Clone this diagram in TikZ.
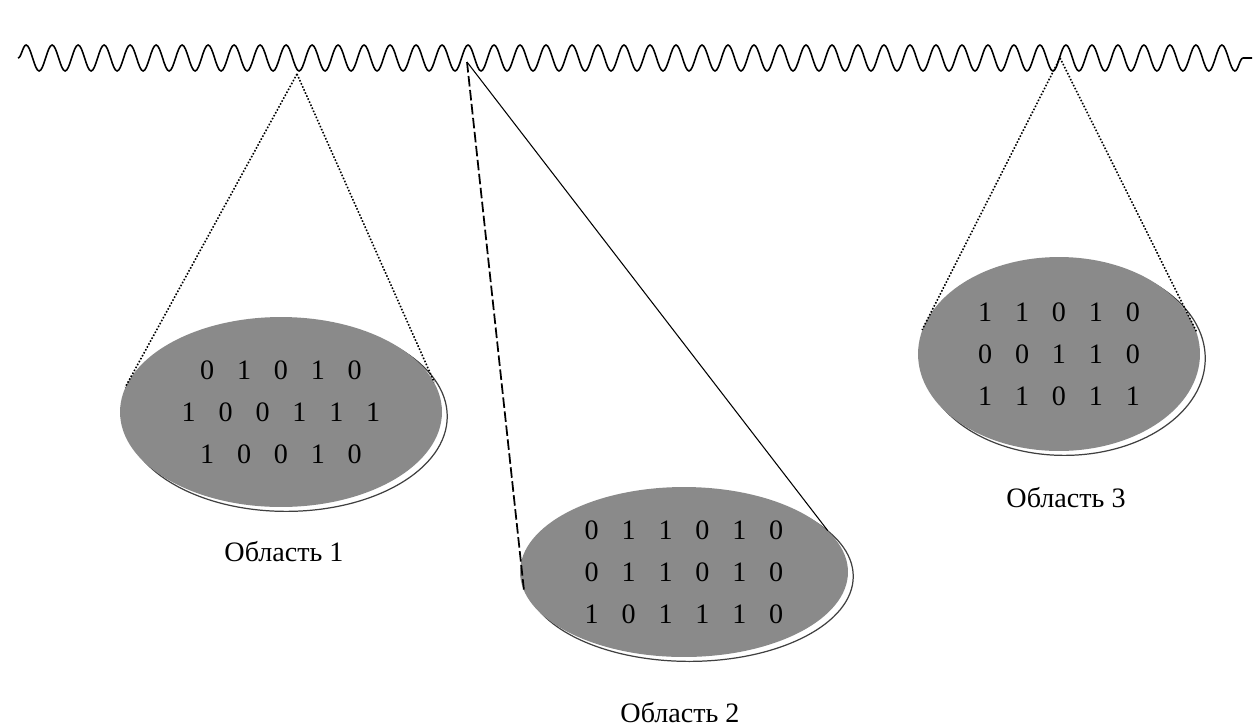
\documentclass[tikz,border=0pt]{standalone}
\usepackage{fontspec}
\setmainfont{Liberation Serif}
\usetikzlibrary{shapes.geometric,decorations.pathmorphing}
\definecolor{zonegray}{RGB}{138,138,138}
\newcommand{\gap}{\hspace{13pt}}
\tikzset{
  wave/.style={line width=0.9pt,decorate,decoration={snake,amplitude=0.26cm,segment length=0.52cm}},
  zone/.style={ellipse,fill=zonegray,inner sep=0pt,align=center,
    font=\fontsize{16}{24}\selectfont,
    preaction={draw=black!75,line width=0.7pt,transform canvas={xshift=3pt,yshift=-2.5pt}}},
  dotline/.style={line width=0.9pt,densely dotted},
  dashline/.style={line width=1pt,dash pattern=on 6pt off 2pt},
  solidline/.style={semithick},
  zonelabel/.style={font=\fontsize{16}{19}\selectfont}
}

\begin{document}
\begin{tikzpicture}[x=0.02cm,y=-0.02cm]
  \useasboundingbox (0,0) rectangle (1256,727);
  % signal
  \draw[wave] (18,58) -- (1252,58);
  \coordinate (top1) at (297,74); \coordinate (top2) at (467,62); \coordinate (top3) at (1060,58);
  % regions
  \node[zone,minimum width=6.44cm,minimum height=3.8cm] (zone1) at (281,412)
    {0\gap1\gap0\gap1\gap0\\1\gap0\gap0\gap1\gap1\gap1\\1\gap0\gap0\gap1\gap0};
  \node[zone,minimum width=6.56cm,minimum height=3.4cm] (zone2) at (684,572)
    {0\gap1\gap1\gap0\gap1\gap0\\0\gap1\gap1\gap0\gap1\gap0\\1\gap0\gap1\gap1\gap1\gap0};
  \node[zone,minimum width=5.64cm,minimum height=3.88cm] (zone3) at (1059,354)
    {1\gap1\gap0\gap1\gap0\\0\gap0\gap1\gap1\gap0\\1\gap1\gap0\gap1\gap1};
  % zoom lines
  \draw[dotline] (top1) -- (zone1.171);
  \draw[dotline] (top1) -- (zone1.11);
  \draw[dashline] (top2) -- (zone2.187);
  \draw[solidline] (top2) -- (zone2.16);
  \draw[dotline] (top3) -- (zone3.170);
  \draw[dotline] (top3) -- (zone3.9);
  % captions
  \node[zonelabel] (cap1) at (284,552) {Область 1};
  \node[zonelabel] (cap2) at (680,713) {Область 2};
  \node[zonelabel] (cap3) at (1066,498) {Область 3};
\end{tikzpicture}
\end{document}
